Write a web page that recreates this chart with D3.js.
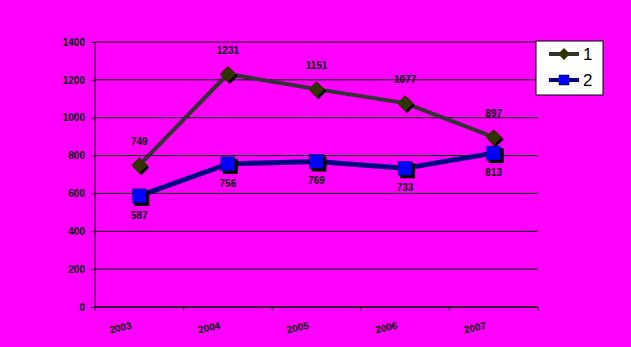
<!DOCTYPE html>
<html>
<head>
<meta charset="utf-8">
<script src="https://cdn.jsdelivr.net/npm/d3@7"></script>
<style>
  body { margin: 0; background: #ff00ff; }
  svg { display: block; }
  .tick text { font-family: Arial, "Liberation Sans", sans-serif; font-weight: bold; font-size: 10px; fill: #000; }
  .val { font-family: Arial, "Liberation Sans", sans-serif; font-weight: bold; font-size: 10px; fill: #000; }
</style>
</head>
<body>
<div id="chart"></div>
<script>
var YEARS = ['2003', '2004', '2005', '2006', '2007'];
var SERIES_1 = [749, 1231, 1151, 1077, 897];
var SERIES_2 = [587, 756, 769, 733, 813];
var Y_TICKS = [0, 200, 400, 600, 800, 1000, 1200, 1400];
var SERIES_NAMES = ['1', '2'];

function drawLines(div) {
  var W = 631, H = 347;
  var margin = { top: 42, right: 93, bottom: 40, left: 95 };
  var width = W - margin.left - margin.right,
      height = H - margin.top - margin.bottom;

  var svg = d3.select(div).append("svg")
              .attr("width", W)
              .attr("height", H);

  svg.append("rect").attr("width", W).attr("height", H).attr("fill", "#ff00ff");

  var g = svg.append("g")
             .attr("transform", "translate(" + margin.left + "," + margin.top + ")");

  // SCALES
  var x = d3.scaleBand().domain(YEARS).range([0, width]);
  var y = d3.scaleLinear().domain([0, 1400]).range([height, 0]);
  var cx = function(d, i) { return x(YEARS[i]) + x.bandwidth() / 2; };

  // gridlines
  g.selectAll(".grid")
   .data(Y_TICKS)
   .enter().append("line")
   .attr("x1", 0).attr("x2", width)
   .attr("y1", d => y(d)).attr("y2", d => y(d))
   .attr("stroke", "#000").attr("stroke-width", 1);

  var yAxis = d3.axisLeft(y).tickValues(Y_TICKS).tickFormat(d3.format("d")).tickSize(4).tickPadding(6);
  var gY = g.append("g").attr("class", "y axis").call(yAxis);
  gY.select(".domain").remove();
  g.append("line").attr("x1", 0).attr("x2", 0).attr("y1", 0).attr("y2", height + 4).attr("stroke", "#000");

  // x axis: ticks between categories
  var gX = g.append("g")
            .attr("class", "x axis")
            .attr("transform", "translate(0," + height + ")");
  gX.append("line").attr("x1", 0).attr("x2", width).attr("stroke", "#000");
  gX.selectAll(".xt")
    .data(YEARS)
    .enter().append("line")
    .attr("x1", d => x(d) + x.bandwidth()).attr("x2", d => x(d) + x.bandwidth())
    .attr("y1", 0).attr("y2", 4)
    .attr("stroke", "#000");
  gX.selectAll(".xl")
    .data(YEARS)
    .enter().append("text")
    .attr("class", "val")
    .attr("text-anchor", "middle")
    .attr("transform", d => "translate(" + (x(d) + x.bandwidth() / 2 - 18) + ",24) rotate(-12)")
    .text(d => d);

  var line = d3.line().x(cx).y(d => y(d));

  // series 1
  g.append("path").datum(SERIES_1)
   .attr("d", line).attr("fill", "none")
   .attr("stroke", "#333333").attr("stroke-width", 4);
  // series 2
  g.append("path").datum(SERIES_2)
   .attr("d", line).attr("fill", "none")
   .attr("stroke", "#000080").attr("stroke-width", 5);

  var diamond = function(s) { return "M0," + (-s) + "L" + s + ",0L0," + s + "L" + (-s) + ",0Z"; };

  // markers series 1 (with shadow)
  SERIES_1.forEach(function(d, i) {
    g.append("path").attr("d", diamond(8))
     .attr("transform", "translate(" + (cx(d, i) + 2) + "," + (y(d) + 2) + ")")
     .attr("fill", "#000");
    g.append("path").attr("d", diamond(8))
     .attr("transform", "translate(" + cx(d, i) + "," + y(d) + ")")
     .attr("fill", "#333300");
  });
  // markers series 2
  SERIES_2.forEach(function(d, i) {
    g.append("rect").attr("x", cx(d, i) - 7 + 2).attr("y", y(d) - 7 + 2)
     .attr("width", 15).attr("height", 15).attr("fill", "#000");
    g.append("rect").attr("x", cx(d, i) - 7).attr("y", y(d) - 7)
     .attr("width", 14).attr("height", 14).attr("fill", "#0000ff")
     .attr("stroke", "#000").attr("stroke-width", 0.5);
  });

  // value labels
  g.selectAll(".l1")
   .data(SERIES_1)
   .enter().append("text")
   .attr("class", "val")
   .attr("text-anchor", "middle")
   .attr("x", cx)
   .attr("y", d => y(d) - 20)
   .text(d => d);
  g.selectAll(".l2")
   .data(SERIES_2)
   .enter().append("text")
   .attr("class", "val")
   .attr("text-anchor", "middle")
   .attr("x", cx)
   .attr("y", d => y(d) + 23)
   .text(d => d);

  // legend
  var lg = svg.append("g").attr("transform", "translate(536,41)");
  lg.append("rect").attr("width", 67).attr("height", 54)
    .attr("fill", "#fff").attr("stroke", "#000").attr("stroke-width", 1);
  var items = [
    { name: SERIES_NAMES[0], stroke: "#333333", fill: "#333300", shape: "d" },
    { name: SERIES_NAMES[1], stroke: "#000080", fill: "#0000ff", shape: "s" }
  ];
  items.forEach(function(it, i) {
    var yy = 13 + i * 26;
    lg.append("line").attr("x1", 13).attr("x2", 43).attr("y1", yy).attr("y2", yy)
      .attr("stroke", it.stroke).attr("stroke-width", 4);
    if (it.shape === "d") {
      lg.append("path").attr("d", diamond(6)).attr("transform", "translate(28," + yy + ")").attr("fill", it.fill);
    } else {
      lg.append("rect").attr("x", 23).attr("y", yy - 5).attr("width", 10).attr("height", 10)
        .attr("fill", it.fill).attr("stroke", "#000").attr("stroke-width", 0.5);
    }
    lg.append("text").attr("x", 47).attr("y", yy + 6)
      .style("font-family", "Arial, 'Liberation Sans', sans-serif")
      .style("font-size", "17px")
      .text(it.name);
  });
}

drawLines("#chart");
</script>
</body>
</html>
